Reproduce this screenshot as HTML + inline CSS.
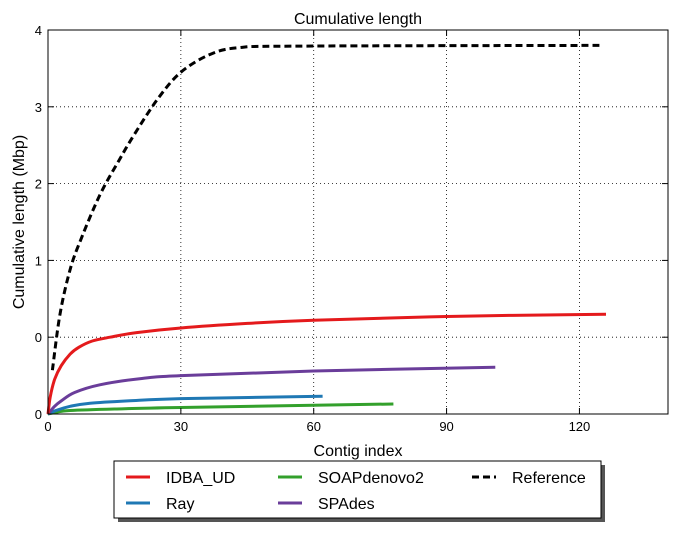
<!DOCTYPE html>
<html><head><meta charset="utf-8"><style>
body{margin:0;background:#fff;font-family:"Liberation Sans","DejaVu Sans",sans-serif}
</style></head><body>
<svg id="chart" width="677" height="529" font-family="Liberation Sans, DejaVu Sans, sans-serif">
<text x="358" y="24" text-anchor="middle" font-size="16">Cumulative length</text>
<g id="grid"></g><g id="series"></g>
<rect x="48" y="30" width="620" height="384" fill="none" stroke="#000" stroke-width="1"/>
<g id="axes" font-size="13"></g>
<text x="358" y="456" text-anchor="middle" font-size="16">Contig index</text>
<text transform="translate(24,222) rotate(-90)" text-anchor="middle" font-size="16">Cumulative length (Mbp)</text>
<g>
<rect x="118" y="465" width="487" height="57" fill="#555"/>
<rect x="114" y="461" width="487" height="57" fill="#fff" stroke="#000"/>
<g font-size="16">
<line x1="126" y1="477" x2="150" y2="477" stroke="#e41a1c" stroke-width="3"/><text x="166" y="483">IDBA_UD</text>
<line x1="126" y1="503" x2="150" y2="503" stroke="#1f78b4" stroke-width="3"/><text x="166" y="509">Ray</text>
<line x1="278" y1="477" x2="302" y2="477" stroke="#33a02c" stroke-width="3"/><text x="318" y="483">SOAPdenovo2</text>
<line x1="278" y1="503" x2="302" y2="503" stroke="#6a3d9a" stroke-width="3"/><text x="318" y="509">SPAdes</text>
<line x1="472" y1="477" x2="496" y2="477" stroke="#000" stroke-width="3" stroke-dasharray="7,4"/><text x="512" y="483">Reference</text>
</g></g>
</svg>
<script>
const xTicks=[0,30,60,90,120];
const yTicks=[0,1,2,3,4,5];
const yTickLabels=["0","0","1","2","3","4"];
const refX=[1,2.7,5,7.4,11.7,16,19.6,25,30,36.5,43,57,124.5];
const refY=[0.57,1.3,1.88,2.27,2.85,3.3,3.65,4.12,4.45,4.68,4.77,4.79,4.8];
const idbaX=[0,0.5,1.5,3,5,7,10,14,20,30,45,60,90,126];
const idbaY=[0,0.22,0.45,0.63,0.78,0.87,0.95,1.0,1.06,1.12,1.18,1.22,1.27,1.3];
const spadesX=[0,1.5,3,6,11.7,20.7,30,60,101];
const spadesY=[0,0.1,0.17,0.28,0.38,0.46,0.5,0.56,0.61];
const rayX=[0,2,5,9.5,18,30,62];
const rayY=[0,0.05,0.1,0.14,0.17,0.2,0.23];
const soapX=[0,2,5,15,30,78];
const soapY=[0,0.025,0.045,0.065,0.085,0.13];
const sx=v=>48+v*620/140, sy=v=>414-v*76.8;
const NS="http://www.w3.org/2000/svg";
const grid=document.getElementById('grid'),axes=document.getElementById('axes'),ser=document.getElementById('series');
function mk(t,a,p){const e=document.createElementNS(NS,t);for(const k in a)e.setAttribute(k,a[k]);p.appendChild(e);return e;}
xTicks.forEach(v=>{const x=sx(v);
 if(v>0){const g=mk('line',{x1:x,x2:x,y1:30,y2:414,stroke:'#000','stroke-dasharray':'1,3','stroke-width':0.8},grid);
 
 }
 mk('line',{x1:x,x2:x,y1:414,y2:408,stroke:'#000'},axes);mk('line',{x1:x,x2:x,y1:30,y2:36,stroke:'#000'},axes);
 const t=mk('text',{x:x,y:431,'text-anchor':'middle'},axes);t.textContent=v;
 
 });
yTicks.forEach((v,i)=>{const y=sy(v);
 if(v>0&&v<5){const g=mk('line',{x1:48,x2:668,y1:y,y2:y,stroke:'#000','stroke-dasharray':'1,3','stroke-width':0.8},grid);
 
 }
 mk('line',{x1:48,x2:54,y1:y,y2:y,stroke:'#000'},axes);mk('line',{x1:668,x2:662,y1:y,y2:y,stroke:'#000'},axes);
 const t=mk('text',{x:42,y:y+5,'text-anchor':'end'},axes);t.textContent=yTickLabels[i];
 
 });
function line(X,Y,c,name,dash){
 const P=X.map((v,i)=>[sx(v),sy(Y[i])]);
 let d='M'+P[0][0].toFixed(1)+','+P[0][1].toFixed(1);
 for(let i=0;i<P.length-1;i++){
  const p0=P[Math.max(i-1,0)],p1=P[i],p2=P[i+1],p3=P[Math.min(i+2,P.length-1)];
  const c1=[p1[0]+(p2[0]-p0[0])/6,p1[1]+(p2[1]-p0[1])/6],c2=[p2[0]-(p3[0]-p1[0])/6,p2[1]-(p3[1]-p1[1])/6];
  d+='C'+c1.map(n=>n.toFixed(1))+' '+c2.map(n=>n.toFixed(1))+' '+p2.map(n=>n.toFixed(1));
 }
 const a={d:d,fill:'none',stroke:c,'stroke-width':3,'stroke-linejoin':'round'};if(dash)a['stroke-dasharray']=dash;
 const p=mk('path',a,ser);
 
 }
line(soapX,soapY,'#33a02c','soapdenovo2-line');
line(rayX,rayY,'#1f78b4','ray-line');
line(spadesX,spadesY,'#6a3d9a','spades-line');
line(idbaX,idbaY,'#e41a1c','idba-ud-line');
line(refX,refY,'#000','reference-line','7,4');
</script>
</body></html>
